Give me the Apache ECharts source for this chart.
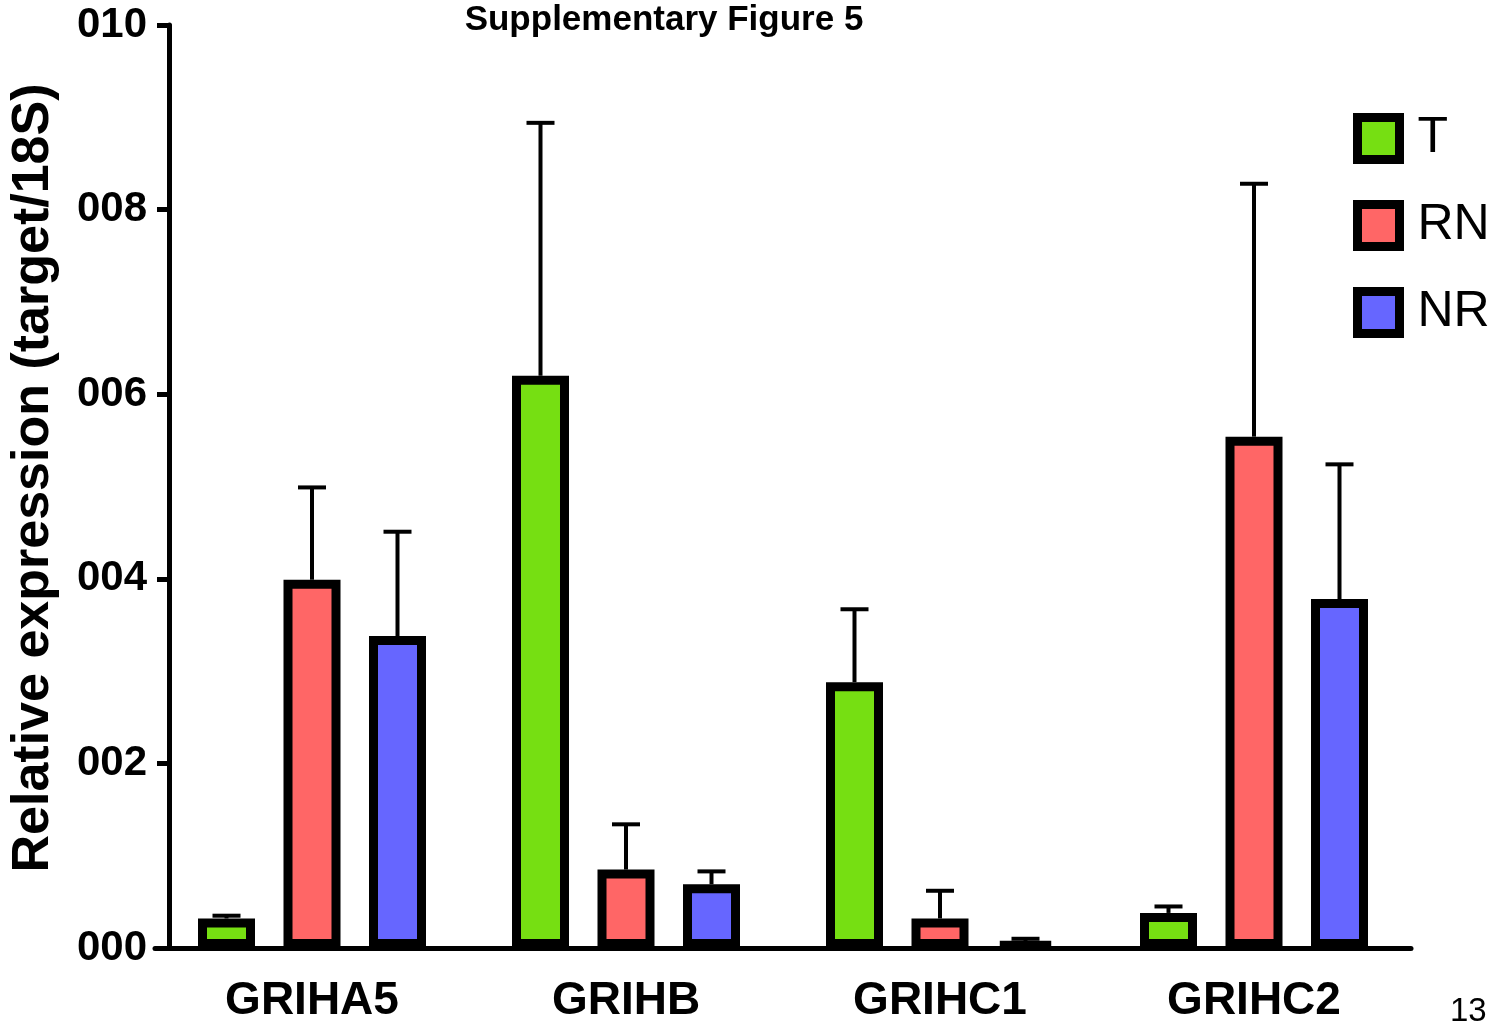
<!DOCTYPE html>
<html>
<head>
<meta charset="utf-8">
<script src="https://cdn.jsdelivr.net/npm/echarts@6/dist/echarts.min.js"></script>
<style>
html,body{margin:0;padding:0;background:#fff;}
#chart{width:1498px;height:1024px;}
</style>
</head>
<body>
<div id="chart"></div>
<script>
var categories = ['GRIHA5', 'GRIHB', 'GRIHC1', 'GRIHC2'];
var seriesNames = ['T', 'RN', 'NR'];
var tMean  = [0.00032, 0.00620, 0.00288, 0.00038];
var rnMean = [0.00399, 0.00085, 0.00032, 0.00554];
var nrMean = [0.00338, 0.00069, 0.00006, 0.00378];
var tSD  = [0.00003, 0.00274, 0.00079, 0.00007];
var rnSD = [0.00100, 0.00049, 0.00030, 0.00274];
var nrSD = [0.00113, 0.00014, 0.00004, 0.00146];
var yTickLabels = ['000', '002', '004', '006', '008', '010'];
var colors = ['#76DF12', '#FF6666', '#6666FF'];

var FONT = '"Liberation Sans", Arial, Helvetica, sans-serif';
var means = [tMean, rnMean, nrMean];
var sds = [tSD, rnSD, nrSD];
var BAR_W = 57, BAR_STEP = 85.5;

var chart = echarts.init(document.getElementById('chart'), null, {renderer: 'canvas'});

var series = [];
seriesNames.forEach(function (name, si) {
  series.push({
    name: name,
    type: 'bar',
    barWidth: BAR_W,
    barGap: '50%',
    z: 3,
    itemStyle: {color: colors[si], borderColor: '#000', borderWidth: 9},
    data: means[si]
  });
});
seriesNames.forEach(function (name, si) {
  var d = means[si].map(function (m, i) { return [i, m, m + sds[si][i]]; });
  series.push({
    type: 'custom',
    name: name + ' error',
    z: 2,
    silent: true,
    data: d,
    renderItem: function (params, api) {
      var base = api.coord([api.value(0), api.value(1)]);
      var top = api.coord([api.value(0), api.value(2)]);
      var x = base[0] + (si - 1) * BAR_STEP;
      var style = {stroke: '#000', lineWidth: 4, fill: null};
      return {
        type: 'group',
        children: [
          {type: 'line', shape: {x1: x, y1: base[1], x2: x, y2: top[1]}, style: style},
          {type: 'line', shape: {x1: x - 14, y1: top[1], x2: x + 14, y2: top[1]}, style: style}
        ]
      };
    }
  });
});

chart.setOption({
  animation: false,
  backgroundColor: '#fff',
  grid: {left: 155, right: 87, top: 25, bottom: 74, containLabel: false},
  legend: {
    data: seriesNames,
    orient: 'vertical',
    left: 1353,
    top: 113,
    padding: 0,
    icon: 'rect',
    itemWidth: 42,
    itemHeight: 42,
    itemGap: 36,
    itemStyle: {borderColor: '#000', borderWidth: 9},
    textStyle: {fontFamily: FONT, fontSize: 50, lineHeight: 50, color: '#000', padding: [0, 0, 0, 13]}
  },
  xAxis: {
    type: 'category',
    data: categories,
    axisLine: {lineStyle: {color: '#000', width: 5}},
    axisTick: {alignWithLabel: true, length: 20, lineStyle: {color: '#000', width: 5}},
    axisLabel: {color: '#000', fontFamily: FONT, fontSize: 46, fontWeight: 'bold', margin: 30}
  },
  yAxis: {
    type: 'value',
    min: 0,
    max: 0.010,
    interval: 0.002,
    offset: -14,
    splitLine: {show: false},
    axisLine: {show: true, lineStyle: {color: '#000', width: 5}},
    axisTick: {show: true, length: 12, lineStyle: {color: '#000', width: 5}},
    axisLabel: {
      color: '#000', fontFamily: FONT, fontSize: 42, fontWeight: 'bold', margin: 22,
      formatter: function (v, idx) { return yTickLabels[idx]; }
    }
  },
  graphic: [
    {type: 'text', x: 664, y: 20, style: {text: 'Supplementary Figure 5', font: 'bold 35px ' + FONT, fill: '#000', align: 'center', verticalAlign: 'middle'}},
    {type: 'text', x: 34, y: 478, rotation: Math.PI / 2, style: {text: 'Relative expression (target/18S)', font: 'bold 52px ' + FONT, fill: '#000', align: 'center', verticalAlign: 'middle'}},
    {type: 'text', x: 1450, y: 1012, style: {text: '13', font: '33px ' + FONT, fill: '#000', align: 'left', verticalAlign: 'middle'}}
  ],
  series: series
});
</script>
</body>
</html>
